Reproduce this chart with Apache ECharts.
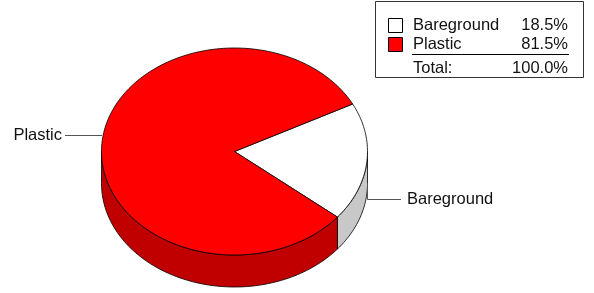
<!DOCTYPE html>
<html><head><meta charset="utf-8">
<script src="https://cdn.jsdelivr.net/npm/echarts@6/dist/echarts.min.js"></script>
<style>html,body{margin:0;padding:0;background:#fff}#c{width:594px;height:293px}</style>
</head><body><div id="c"></div>
<script>
// ---- data ----
const categories = ['Bareground', 'Plastic'];
const values = [18.5, 81.5];
const totalLabel = 'Total:';

// ---- styles ----
const topColors = ['#ffffff', '#ff0000'];
const sideColors = ['#c8c8c8', '#c00000'];
const FONT = '16.5px "Liberation Sans", Arial, sans-serif';
const TXT = '#111';

// ---- geometry (layout) ----
const CX = 234.5, CY = 151.5, RX = 133, RY = 103.5, DEPTH = 32;
const START = 27.3; // degrees ccw from +x, slices go clockwise
const total = values.reduce((a, b) => a + b, 0);
const rad = d => d * Math.PI / 180;
function pt(a, dy) { return [CX + RX * Math.cos(rad(a)), CY - RY * Math.sin(rad(a)) + dy]; }
function arc(from, to, dy) {
  const n = Math.max(2, Math.ceil(Math.abs(to - from) / 1.5));
  const out = [];
  for (let k = 0; k <= n; k++) out.push(pt(from + (to - from) * k / n, dy));
  return out;
}
function sliceAngles(i, v) {
  let before = 0;
  for (let k = 0; k < i; k++) before += values[k];
  const a0 = START - before / total * 360;
  const a1 = a0 - v / total * 360;
  return [a1, a0];
}
const stroke = { stroke: '#000', lineWidth: 0.8, lineJoin: 'round' };

function renderItem(params, api) {
  const i = params.dataIndex;
  const v = api.value(0);
  const [a1, a0] = sliceAngles(i, v);
  const children = [];
  for (let k = -2; k <= 1; k++) {
    const lo = Math.max(a1, -180 + 360 * k), hi = Math.min(a0, 360 * k);
    if (hi > lo + 0.01) {
      const pts = arc(lo, hi, 0).concat(arc(hi, lo, DEPTH));
      children.push({ type: 'polygon', shape: { points: pts },
        style: Object.assign({ fill: sideColors[i] }, stroke) });
    }
  }
  const topPts = [[CX, CY]].concat(arc(a1, a0, 0));
  children.push({ type: 'polygon', shape: { points: topPts },
    style: Object.assign({ fill: topColors[i] }, stroke) });
  return { type: 'group', children };
}

function txt(x, y, s, align) {
  return { type: 'text', x, y, silent: true,
    style: { text: s, font: FONT, fill: TXT, align: align || 'left', verticalAlign: 'middle',
      textAlign: align || 'left', textVerticalAlign: 'middle' } };
}

const graphics = [];
// legend box
graphics.push({ type: 'rect', shape: { x: 375.5, y: 1.5, width: 208, height: 76 },
  style: { fill: '#fff', stroke: '#333', lineWidth: 1 }, silent: true });
const rowY = [25, 44];
categories.forEach((c, i) => {
  graphics.push({ type: 'rect', shape: { x: 388.5, y: rowY[i] - 6.5, width: 14, height: 14 },
    style: { fill: topColors[i], stroke: '#000', lineWidth: 1 }, silent: true });
  graphics.push(txt(413, rowY[i], c));
  graphics.push(txt(568, rowY[i], values[i].toFixed(1) + '%', 'right'));
});
graphics.push({ type: 'line', shape: { x1: 412, y1: 54.5, x2: 569, y2: 54.5 },
  style: { stroke: '#000', lineWidth: 1 }, silent: true });
graphics.push(txt(413, 68, totalLabel));
graphics.push(txt(568, 68, total.toFixed(1) + '%', 'right'));

// slice labels
graphics.push({ type: 'polyline', shape: { points: [[65, 135.5], [102, 135.5]] },
  style: { stroke: '#555', lineWidth: 1 }, silent: true, z: 5 });
graphics.push(txt(62, 135.5, categories[1], 'right'));
graphics.push({ type: 'polyline', shape: { points: [[367.5, 183.5], [367.5, 199.5], [401, 199.5]] },
  style: { stroke: '#555', lineWidth: 1, fill: null }, silent: true, z: 5 });
graphics.push(txt(407, 199.5, categories[0]));

const chart = echarts.init(document.getElementById('c'), null, { renderer: 'canvas' });
chart.setOption({
  animation: false,
  backgroundColor: '#fff',
  series: [{
    type: 'custom',
    coordinateSystem: 'none',
    renderItem,
    data: values.map((v, i) => ({ name: categories[i], value: [v] })),
    silent: true
  }],
  graphic: graphics
});
</script>
</body></html>
